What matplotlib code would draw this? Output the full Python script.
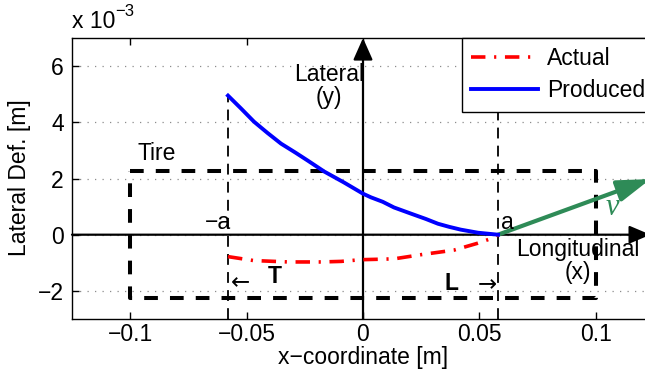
import numpy as np
import matplotlib
matplotlib.use("Agg")
import matplotlib.pyplot as plt

plt.rcParams['font.family'] = ['Liberation Sans', 'DejaVu Sans']
plt.rcParams['font.size'] = 16.5

# data (y in 1e-3 m)
a = 0.058
produced_x = [-0.058, -0.0525, -0.0468, -0.041, -0.0352, -0.029, -0.0236,
              -0.0167, -0.0082, 0.0, 0.0034, 0.0085, 0.0133, 0.0206, 0.027,
              0.0322, 0.037, 0.042, 0.0494, 0.058]
produced_y = [4.95, 4.5, 4.02, 3.62, 3.24, 2.92, 2.63, 2.25, 1.86, 1.46, 1.33,
              1.17, 0.97, 0.75, 0.56, 0.39, 0.28, 0.18, 0.07, 0.0]
actual_x = [-0.058, -0.047, -0.032, -0.018, -0.0094, -0.001, 0.0133, 0.025,
            0.039, 0.049, 0.056, 0.058]
actual_y = [-0.78, -0.92, -0.97, -0.97, -0.95, -0.89, -0.86, -0.71, -0.55,
            -0.31, -0.11, 0.0]
tire_x = [-0.1, 0.1, 0.1, -0.1, -0.1]
tire_y = [2.25, 2.25, -2.25, -2.25, 2.25]
v_end = (0.1235, 1.98)

xticks = [-0.1, -0.05, 0, 0.05, 0.1]
xticklabels = ['\u22120.1', '\u22120.05', '0', '0.05', '0.1']
yticks = [-2, 0, 2, 4, 6]
yticklabels = ['\u22122', '0', '2', '4', '6']

fig = plt.figure(figsize=(6.45, 3.81), dpi=100)
ax = fig.add_axes([72/645, 1-319/381, 582/645, 281/381])
ax.set_xlim(-0.125, 0.125)
ax.set_ylim(-3, 7)

ax.set_xticks(xticks)
ax.set_xticklabels(xticklabels)
ax.set_yticks(yticks)
ax.set_yticklabels(yticklabels)
ax.tick_params(direction='in', length=5, top=True, right=True, width=1)
ax.tick_params(axis='y', pad=6)
ax.tick_params(axis='x', pad=3)
ax.yaxis.grid(True, linestyle=(0, (1, 5)), color='0.55', lw=0.9)
for s in ax.spines.values():
    s.set_linewidth(1.0)

# tire outline and contact patch limits
ax.plot(tire_x, tire_y, color='k', lw=2.9, dashes=(3.4, 3.0), zorder=2)
ax.plot([-a, -a], [-3, 5.0], color='k', lw=1.3, dashes=(6, 4), zorder=2)
ax.plot([a, a], [-3, 7], color='k', lw=1.3, dashes=(6, 4), zorder=2)

# coordinate arrows
ax.annotate('', xy=(0.1235, 0), xytext=(-0.125, 0),
            arrowprops=dict(arrowstyle='-|>,head_length=1.3,head_width=0.55',
                            lw=1.6, color='k', shrinkA=0, shrinkB=0,
                            mutation_scale=10), zorder=3)
ax.annotate('', xy=(0, 7), xytext=(0, -3),
            arrowprops=dict(arrowstyle='-|>,head_length=1.35,head_width=0.6',
                            lw=1.6, color='k', shrinkA=0, shrinkB=0,
                            mutation_scale=10), zorder=3)
ax.annotate('', xy=v_end, xytext=(a, 0),
            arrowprops=dict(arrowstyle='-|>,head_length=2.0,head_width=0.65',
                            lw=3, color='#2e8b57', shrinkA=0, shrinkB=0,
                            mutation_scale=10), zorder=3)

l1, = ax.plot(actual_x, actual_y, color='red', lw=2.6,
              linestyle=(0, (4.0, 2.4, 0.6, 2.4)), zorder=4, label='Actual')
l2, = ax.plot(produced_x, produced_y, color='blue', lw=2.8, zorder=4,
              label='Produced')

ax.text(-0.0146, 5.3, 'Lateral\n(y)', ha='center', va='center',
        linespacing=1.0)
ax.text(0.0923, -0.95, 'Longitudinal\n(x)', ha='center', va='center',
        linespacing=1.0)
ax.text(-0.0888, 2.9, 'Tire', ha='center', va='center')
ax.text(-0.0567, 0.45, '\u2212a', ha='right', va='center')
ax.text(0.0592, 0.45, 'a', ha='left', va='center')
ax.text(-0.0378, -1.5, 'T', ha='center', va='center', fontweight='bold')
ax.text(-0.0525, -1.7, '\u2190', ha='center', va='center',
        family=['DejaVu Sans'])
ax.text(0.0382, -1.73, 'L', ha='center', va='center', fontweight='bold')
ax.text(0.0532, -1.77, '\u2192', ha='center', va='center',
        family=['DejaVu Sans'])
ax.text(0.107, 0.98, 'v', ha='center', va='center', color='#2e8b57',
        fontsize=22, family=['Liberation Serif'], style='italic')

leg = ax.legend(handles=[l1, l2], loc='upper left',
                bbox_to_anchor=(462/645, 1-38/381), bbox_transform=fig.transFigure,
                borderaxespad=0, fancybox=False, edgecolor='k', framealpha=1,
                handlelength=2.9, handletextpad=0.4, labelspacing=0.4,
                borderpad=0.4)
leg.get_frame().set_linewidth(1.0)
leg.set_zorder(10)

ax.set_xlabel('x\u2212coordinate [m]', labelpad=0)
fig.text(20/645, 1-178/381, 'Lateral Def. [m]', rotation=90,
         ha='center', va='center')
fig.text(72/645, 1-22/381, 'x 10', ha='left', va='center')
fig.text(115/645, 1-11/381, '\u22123', ha='left', va='center', fontsize=12)

fig.savefig('out.png', dpi=100)
